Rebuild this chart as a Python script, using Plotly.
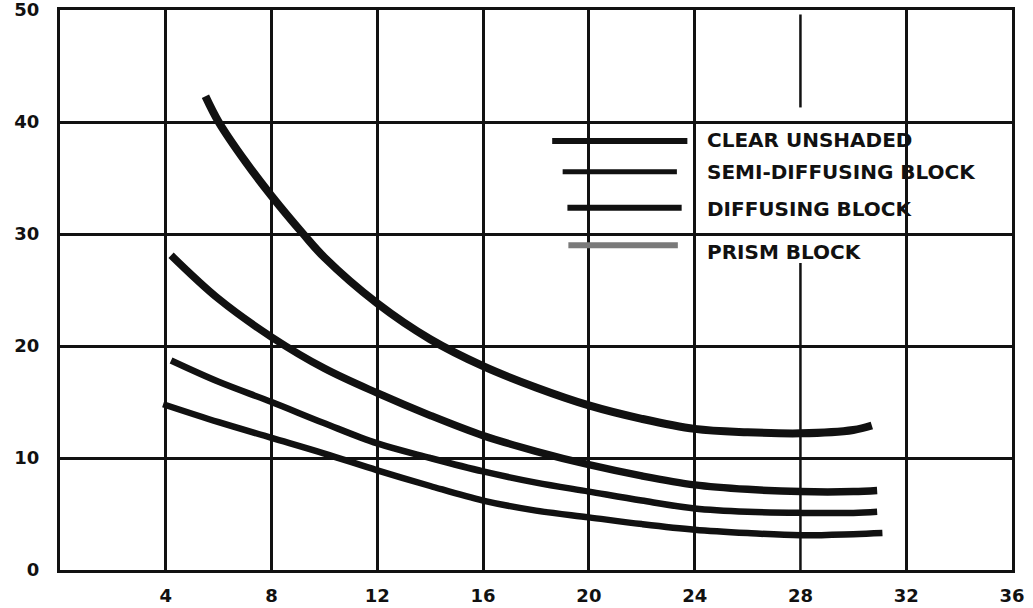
import plotly.graph_objects as go

# Curves
clear_x = [5.5, 6, 7, 8, 9.2, 10, 12, 14, 16, 18, 20, 22, 24, 26, 28, 30, 30.7]
clear_y = [42.3, 40.0, 36.5, 33.4, 30.0, 27.9, 23.8, 20.6, 18.2, 16.3, 14.7, 13.5, 12.6, 12.3, 12.2, 12.5, 12.9]

semi_x = [4.2, 6, 8, 10, 12, 14, 16, 18, 20, 22, 24, 26, 28, 30, 30.9]
semi_y = [28.1, 24.2, 20.8, 18.0, 15.8, 13.8, 12.0, 10.6, 9.4, 8.4, 7.6, 7.2, 7.0, 7.0, 7.1]

diff_x = [4.2, 6, 8, 10, 12, 14, 16, 18, 20, 22, 24, 26, 28, 30, 30.9]
diff_y = [18.7, 16.8, 15.0, 13.1, 11.3, 10.0, 8.8, 7.8, 7.0, 6.2, 5.5, 5.2, 5.1, 5.1, 5.2]

prism_x = [3.9, 6, 8, 10, 12, 14, 16, 18, 20, 22, 24, 26, 28, 30, 31.1]
prism_y = [14.8, 13.2, 11.8, 10.4, 8.9, 7.5, 6.2, 5.3, 4.7, 4.1, 3.6, 3.3, 3.1, 3.2, 3.3]

series_names = ["CLEAR UNSHADED", "SEMI-DIFFUSING BLOCK", "DIFFUSING BLOCK", "PRISM BLOCK"]

x_ticks = [4, 8, 12, 16, 20, 24, 28, 32, 36]
y_ticks = [0, 10, 20, 30, 40, 50]
x_grid = [4, 8, 12, 16, 20, 24, 32]   # the 28 line is broken on the original
grid_28 = [(0, 27.4), (41.3, 49.6)]

INK = "#111111"
FONT = "DejaVu Sans"

fig = go.Figure()

widths = [8, 7.5, 6.5, 6.5]
for name, xs, ys, w in zip(series_names, [clear_x, semi_x, diff_x, prism_x],
                           [clear_y, semi_y, diff_y, prism_y], widths):
    fig.add_trace(go.Scatter(x=xs, y=ys, mode="lines", name=name,
                             line=dict(color=INK, width=w, shape="spline", smoothing=1.0),
                             showlegend=False))

# broken gridline at 28
for y0, y1 in grid_28:
    fig.add_shape(type="line", xref="x", yref="y", x0=28, x1=28, y0=y0, y1=y1,
                  line=dict(color=INK, width=2.5), layer="below")

# hand-drawn style legend (paper coords)
legend_rows = [
    # (x0, x1, y_line, y_text, width, colour)
    (0.517, 0.659, 0.766, 0.768, 6, INK),
    (0.528, 0.648, 0.711, 0.710, 5, INK),
    (0.533, 0.653, 0.647, 0.644, 6, INK),
    (0.534, 0.649, 0.580, 0.567, 6, "#7a7a7a"),
]
for name, (x0, x1, yl, yt, w, c) in zip(series_names, legend_rows):
    fig.add_shape(type="line", xref="paper", yref="paper", x0=x0, x1=x1, y0=yl, y1=yl,
                  line=dict(color=c, width=w))
    fig.add_annotation(xref="paper", yref="paper", x=0.678, y=yt, text=name,
                       showarrow=False, xanchor="left", yanchor="middle",
                       font=dict(family=FONT, size=20, color=INK, weight="bold"))

fig.update_layout(
    width=1033, height=608,
    margin=dict(l=60, r=21, t=10, b=38),
    paper_bgcolor="white", plot_bgcolor="white",
    font=dict(family=FONT, color=INK),
)
fig.update_xaxes(range=[0, 36], tickvals=x_ticks, ticks="", showgrid=False, zeroline=False,
                 showline=True, linecolor=INK, linewidth=3, mirror=True, automargin=False,
                 ticklabeloverflow="allow",
                 tickfont=dict(family=FONT, size=18, color=INK, weight="bold"),
                 ticklabelstandoff=7,
                 minor=dict(tickvals=x_grid, showgrid=True, gridcolor=INK, gridwidth=2.5, ticks=""))
fig.update_yaxes(range=[0, 50], tickvals=y_ticks, ticks="", showgrid=True, gridcolor=INK,
                 gridwidth=2.5, zeroline=False, automargin=False,
                 ticklabeloverflow="allow",
                 showline=True, linecolor=INK, linewidth=3, mirror=True,
                 tickfont=dict(family=FONT, size=18, color=INK, weight="bold"),
                 ticklabelstandoff=14)

fig.write_html("out.html", config={"displayModeBar": False},
               post_script="document.body.style.margin='0';")
